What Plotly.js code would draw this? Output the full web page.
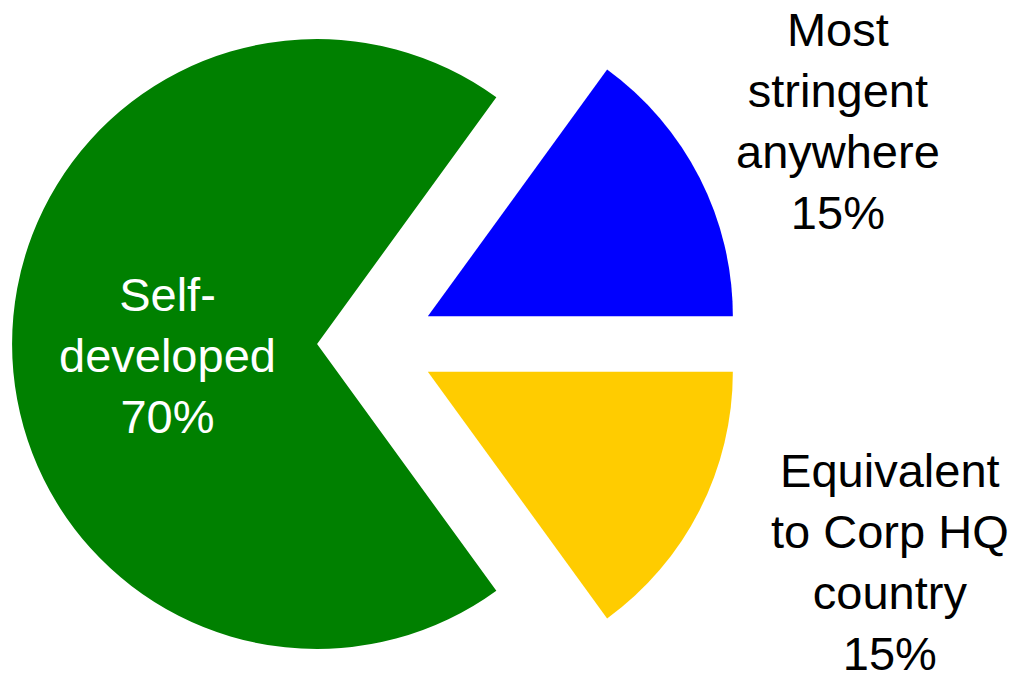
<!DOCTYPE html>
<html>
<head>
<meta charset="utf-8">
<script src="https://cdn.plot.ly/plotly-3.0.1.min.js"></script>
<style>
  html, body { margin: 0; padding: 0; background: #ffffff; overflow: hidden; width: 1015px; height: 682px; }
  #chart { position: absolute; left: 0; top: -22px; width: 1015px; height: 732px; }
</style>
</head>
<body>
<div id="chart"></div>
<script>
// ---- data ----
const categories = ['Self-developed', 'Most stringent anywhere', 'Equivalent to Corp HQ country'];
const displayLabels = ['Self-<br>developed', 'Most<br>stringent<br>anywhere', 'Equivalent<br>to Corp HQ<br>country'];
const values = [70, 15, 15];
const colors = ['#008000', '#0000FF', '#FFCC00'];

// ---- layout helpers ----
const W = 1015, H = 732, OFFSET = 22;
function px2paperX(x) { return x / W; }
function px2paperY(y) { return 1 - (y + OFFSET) / H; }

const total = values.reduce((a, b) => a + b, 0);
const pct = values.map(v => Math.round(v / total * 100) + '%');

// label centres (screen pixels) and colours
const labelPos = [[167, 355], [838, 121], [890, 562]];
const labelColors = ['#ffffff', '#000000', '#000000'];

const annotations = categories.map((c, i) => ({
  xref: 'paper', yref: 'paper',
  x: px2paperX(labelPos[i][0]), y: px2paperY(labelPos[i][1]),
  xanchor: 'center', yanchor: 'middle', align: 'center',
  showarrow: false,
  text: displayLabels[i] + '<br>' + pct[i],
  font: { family: 'Liberation Sans, Arial, sans-serif', size: 47, color: labelColors[i] }
}));

const trace = {
  type: 'pie',
  labels: categories,
  values: values,
  marker: { colors: colors, line: { width: 0 } },
  sort: false,
  direction: 'clockwise',
  rotation: 144,
  pull: [0.185, 0.2, 0.2],
  textinfo: 'none',
  hoverinfo: 'label+percent',
  domain: { x: [0, 747 / W], y: [0, 1] }
};

const layout = {
  width: W, height: H,
  margin: { l: 0, r: 0, t: 0, b: 0, pad: 0 },
  paper_bgcolor: '#ffffff',
  plot_bgcolor: '#ffffff',
  showlegend: false,
  annotations: annotations
};

Plotly.newPlot('chart', [trace], layout, { displayModeBar: false, staticPlot: true });
</script>
</body>
</html>
